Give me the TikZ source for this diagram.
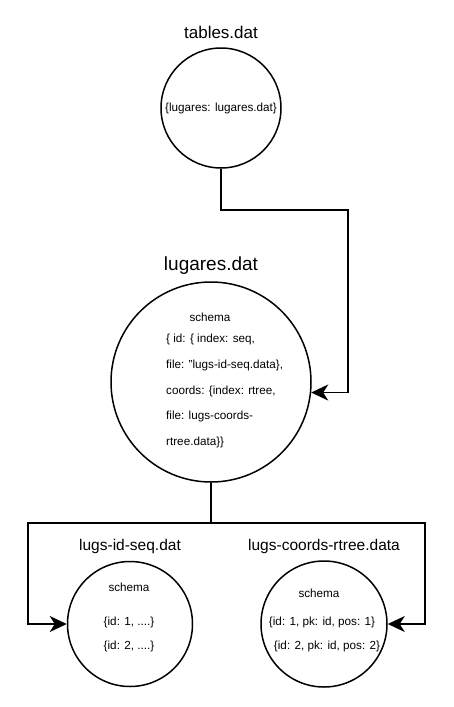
\documentclass[tikz,border=0pt]{standalone}
\usepackage{fontspec}
\setmainfont{Liberation Sans}
\usepackage{tikz}
\usetikzlibrary{arrows.meta,positioning}

\begin{document}
\begin{tikzpicture}[x=1pt, y=-1pt, >={Stealth[length=17pt,width=16pt,inset=5pt]},
  file/.style={circle, draw, line width=1.5pt, inner sep=0pt},
  title/.style={inner sep=0pt, text depth=0pt},
  txt/.style={inner sep=0pt, font=\fontsize{11.7}{14}\selectfont},
  link/.style={->, line width=1.5pt}]

\useasboundingbox (0,0) rectangle (454,707);

% data files
\node [file, minimum size=120pt] (tab) at (221,108) {};
\node [file, minimum size=200pt] (lug) at (211,382) {};
\node [file, minimum size=125pt] (seq) at (130,624) {};
\node [file, minimum size=126pt] (rt) at (324,624) {};

% file names
\node [title, font=\fontsize{17}{20}\selectfont, above=9pt of tab] (tabname) {tables.dat};
\node [title, font=\fontsize{19}{22}\selectfont, above=11pt of lug] (lugname) {lugares.dat};
\node [title, font=\fontsize{15.5}{18}\selectfont, above=10pt of seq] (seqname) {lugs-id-seq.dat};
\node [title, font=\fontsize{15.5}{18}\selectfont, above=10pt of rt] (rtname) {lugs-coords-rtree.data};

% contents
\node [txt] (tabtxt) at (221,108) {\{lugares: lugares.dat\}};

\node [txt] (lugschema) at (210,317) {schema};
\node [txt, anchor=west, align=left, font=\fontsize{11.7}{25.8}\selectfont] (lugtxt) at (166,391)
  {\{ id: \{ index: seq,\\ file: "lugs-id-seq.data\},\\ coords: \{index: rtree,\\ file: lugs-coords-\\ rtree.data\}\}};

\node [txt] (seqschema) at (129,587) {schema};
\node [txt] (seqrow1) at (129,622) {\{id: 1, ....\}};
\node [txt] (seqrow2) at (129,646) {\{id: 2, ....\}};

\node [txt] (rtschema) at (319,593) {schema};
\node [txt] (rtrow1) at (322,622) {\{id: 1, pk: id, pos: 1\}};
\node [txt] (rtrow2) at (327,646) {\{id: 2, pk: id, pos: 2\}};

% bends
\coordinate (k1) at (348,210);
\coordinate (k2) at (28,523);
\coordinate (k3) at (425,523);

\draw [link] (tab.south) |- (k1) |- (lug.-6);
\draw [link] (lug.south) |- (k2) |- (seq.west);
\draw [link] (lug.south) |- (k3) |- (rt.east);
\end{tikzpicture}
\end{document}
